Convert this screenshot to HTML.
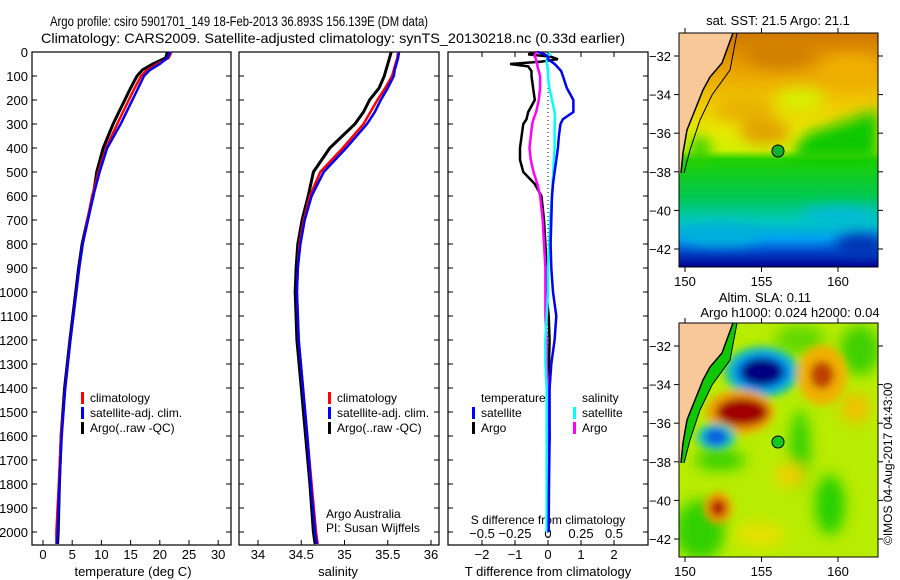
<!DOCTYPE html>
<html><head><meta charset="utf-8"><style>
html,body{margin:0;padding:0;background:#fff;}
svg{display:block;font-family:"Liberation Sans",sans-serif;}
text{fill:#000;}
</style></head><body>
<svg id="chart" width="900" height="580" viewBox="0 0 900 580" xmlns="http://www.w3.org/2000/svg">
<defs>
<filter id="blur4" x="-20%" y="-20%" width="140%" height="140%"><feGaussianBlur stdDeviation="4"/></filter>
<filter id="blur7" x="-30%" y="-30%" width="160%" height="160%"><feGaussianBlur stdDeviation="7"/></filter>
<clipPath id="clipMap1"><rect x="679" y="33" width="199" height="234"/></clipPath>
<clipPath id="clipMap2"><rect x="679" y="323" width="199" height="234"/></clipPath>
<linearGradient id="sstGrad" x1="0" y1="33" x2="0" y2="267" gradientUnits="userSpaceOnUse">
<stop offset="0" stop-color="#d07800"/><stop offset="0.15" stop-color="#e8a000"/>
<stop offset="0.3" stop-color="#f0c800"/><stop offset="0.42" stop-color="#e8e800"/>
<stop offset="0.5" stop-color="#d0f000"/><stop offset="0.54" stop-color="#20d000"/>
<stop offset="0.7" stop-color="#00c850"/>
<stop offset="0.8" stop-color="#00c8b8"/><stop offset="0.88" stop-color="#00a0f0"/>
<stop offset="0.94" stop-color="#0040c8"/><stop offset="1" stop-color="#000090"/>
</linearGradient>
</defs>
<g font-size="14">
<text x="50" y="26" textLength="378" lengthAdjust="spacingAndGlyphs">Argo profile: csiro 5901701_149 18-Feb-2013 36.893S 156.139E (DM data)</text>
<text x="41" y="43" textLength="584" lengthAdjust="spacingAndGlyphs">Climatology: CARS2009. Satellite-adjusted climatology: synTS_20130218.nc (0.33d earlier)</text>
</g>
<g id="panels"></g>
<!-- SST map -->
<g>
<text x="778" y="25" font-size="13" text-anchor="middle">sat. SST: 21.5 Argo: 21.1</text>
<g clip-path="url(#clipMap1)">
<rect x="679" y="33" width="199" height="234" fill="url(#sstGrad)"/>
<g filter="url(#blur7)">
<polygon points="795,145 810,132 835,125 878,110 878,160 795,160" fill="#10c800"/>
<ellipse cx="700" cy="150" rx="10" ry="14" fill="#30d000"/>
<ellipse cx="765" cy="132" rx="25" ry="12" fill="#e0a000"/>
<ellipse cx="745" cy="110" rx="30" ry="12" fill="#e8b000"/>
<ellipse cx="800" cy="100" rx="25" ry="12" fill="#d8f000"/>
<ellipse cx="850" cy="70" rx="30" ry="15" fill="#f0b000"/>
<ellipse cx="780" cy="55" rx="35" ry="14" fill="#d08000"/>
<ellipse cx="840" cy="215" rx="40" ry="8" fill="#00b8e0"/>
<ellipse cx="720" cy="235" rx="40" ry="10" fill="#00b0d8"/>
<ellipse cx="860" cy="245" rx="25" ry="12" fill="#0030b0"/>
</g>
<polygon points="679,33 733,33 722,63 710,77 703,90 695,110 687,130 683,153 681,173 679,174" fill="#f8c898"/>
<polyline points="733,33 722,63 710,77 703,90 695,110 687,130 683,153 681,173" fill="none" stroke="#000" stroke-width="1.5"/>
<polyline points="737,33 730,70 712,95 700,120 690,150 684,173" fill="none" stroke="#000" stroke-width="1"/>
<circle cx="778" cy="151" r="6" fill="#10b030" stroke="#000" stroke-width="1"/>
</g>
<rect x="679" y="33" width="199" height="234" fill="none" stroke="#000" stroke-width="1"/>
<g id="map1ticks"></g>
</g>
<!-- SLA map -->
<g>
<text x="765" y="302" font-size="13" text-anchor="middle">Altim. SLA: 0.11</text>
<text x="790" y="317" font-size="13" text-anchor="middle">Argo h1000: 0.024 h2000: 0.04</text>
<g clip-path="url(#clipMap2)">
<rect x="679" y="323" width="199" height="234" fill="#b8ec00"/>
<g filter="url(#blur7)">
<ellipse cx="700" cy="530" rx="25" ry="30" fill="#30d000"/>
<ellipse cx="800" cy="450" rx="10" ry="40" fill="#30d000"/>
<ellipse cx="830" cy="505" rx="15" ry="30" fill="#28d000"/>
<ellipse cx="860" cy="350" rx="20" ry="25" fill="#40d000"/>
<ellipse cx="800" cy="340" rx="25" ry="15" fill="#60d800"/>
<ellipse cx="720" cy="460" rx="25" ry="10" fill="#30d000"/>
<ellipse cx="855" cy="408" rx="15" ry="15" fill="#f0c000"/>
<ellipse cx="790" cy="475" rx="15" ry="12" fill="#f0d000"/>
<ellipse cx="760" cy="535" rx="25" ry="12" fill="#e8e000"/>
</g>
<g filter="url(#blur4)">
<ellipse cx="762" cy="372" rx="38" ry="26" fill="#20c8a0"/>
<ellipse cx="762" cy="372" rx="30" ry="20" fill="#0090f0"/>
<ellipse cx="762" cy="372" rx="22" ry="14" fill="#000080"/>
<ellipse cx="740" cy="412" rx="34" ry="22" fill="#f0a000"/>
<ellipse cx="742" cy="412" rx="26" ry="14" fill="#a00000"/>
<ellipse cx="822" cy="375" rx="25" ry="30" fill="#f0b000"/>
<ellipse cx="822" cy="375" rx="12" ry="14" fill="#c04000"/>
<ellipse cx="716" cy="437" rx="20" ry="14" fill="#20c8b0"/>
<ellipse cx="716" cy="437" rx="12" ry="9" fill="#1060e0"/>
<ellipse cx="718" cy="508" rx="14" ry="16" fill="#f0a000"/>
<ellipse cx="718" cy="508" rx="8" ry="9" fill="#b01000"/>
</g>
<polygon points="679,323 733,323 722,353 710,367 703,380 695,400 687,420 683,443 681,463 679,464" fill="#f8c898"/>
<polygon points="733,323 737,323 730,360 712,385 700,410 690,440 684,463 681,463 683,443 687,420 695,400 703,380 710,367 722,353" fill="#10c800"/>
<polyline points="733,323 722,353 710,367 703,380 695,400 687,420 683,443 681,463" fill="none" stroke="#000" stroke-width="1.5"/>
<polyline points="737,323 730,360 712,385 700,410 690,440 684,463" fill="none" stroke="#000" stroke-width="1"/>
<circle cx="778" cy="442" r="6" fill="#10c820" stroke="#000" stroke-width="1"/>
</g>
<rect x="679" y="323" width="199" height="234" fill="none" stroke="#000" stroke-width="1"/>
<g id="map2ticks"></g>
<text transform="translate(892,545) rotate(-90)" font-size="12">©IMOS 04-Aug-2017 04:43:00</text>
</g>
</svg>
<script>
// ---- data ----
const depths = [0,25,50,75,100,150,200,250,300,400,500,600,700,800,900,1000,1200,1400,1600,1800,2000,2050];
const tempArgo = [21.3,21.0,18.8,17.0,16.1,15.0,14.0,13.0,12.0,10.3,9.2,8.6,7.6,6.7,6.1,5.6,4.6,3.7,3.1,2.8,2.6,2.5];
const tempClim = [22.0,21.5,19.6,17.8,16.8,15.7,14.7,13.7,12.7,10.8,9.5,8.4,7.6,6.8,6.2,5.7,4.7,3.8,3.1,2.7,2.3,2.3];
const tempSat  = [21.8,21.3,20.0,18.3,17.3,16.3,15.3,14.3,13.3,11.0,9.7,8.6,7.7,6.8,6.2,5.7,4.7,3.8,3.2,2.8,2.5,2.4];
const salArgo = [35.54,35.52,35.50,35.48,35.46,35.40,35.29,35.22,35.12,34.83,34.64,34.58,34.51,34.46,34.44,34.43,34.45,34.50,34.55,34.60,34.64,34.66];
const salClim = [35.62,35.61,35.59,35.57,35.55,35.47,35.38,35.30,35.22,34.98,34.72,34.60,34.53,34.48,34.46,34.45,34.47,34.52,34.57,34.62,34.67,34.69];
const salSat  = [35.63,35.62,35.60,35.58,35.57,35.50,35.42,35.35,35.26,35.02,34.76,34.62,34.54,34.49,34.46,34.45,34.47,34.52,34.57,34.61,34.66,34.68];
const diffDepths = [0,10,20,30,40,50,60,80,100,150,200,250,280,300,350,400,450,500,550,600,700,800,900,1000,1100,1200,1300,1400,1600,1800,2000];
const tDiffArgo = [-0.3,-0.6,0.1,0.3,-0.2,-1.15,-0.6,-0.5,-0.5,-0.45,-0.4,-0.6,-0.65,-0.75,-0.8,-0.85,-0.85,-0.75,-0.4,-0.2,-0.12,-0.08,-0.05,-0.05,0.02,0.05,0.03,0.0,0.05,0.0,0.0];
const tDiffSat  = [-0.3,-0.1,0.0,0.0,0.1,0.2,0.27,0.4,0.45,0.57,0.77,0.77,0.45,0.38,0.33,0.3,0.25,0.2,0.15,0.12,0.1,0.08,0.1,0.15,0.25,0.2,0.1,0.05,0.05,0.03,0.02];
const sDiffArgo = [-0.08,-0.1,-0.1,-0.09,-0.09,-0.08,-0.08,-0.07,-0.06,-0.06,-0.07,-0.09,-0.11,-0.12,-0.13,-0.14,-0.13,-0.11,-0.08,-0.06,-0.04,-0.03,-0.02,-0.02,-0.02,-0.01,-0.01,0.0,0.0,0.0,0.0];
const sDiffSat  = [0.015,0.01,0.0,-0.01,-0.01,-0.008,-0.005,0.0,0.0,0.01,0.03,0.05,0.053,0.05,0.05,0.05,0.045,0.04,0.035,0.03,0.015,0.01,0.0,0.0,-0.01,-0.02,-0.02,-0.01,-0.01,-0.01,-0.01];
const depthTicks = [0,100,200,300,400,500,600,700,800,900,1000,1100,1200,1300,1400,1500,1600,1700,1800,1900,2000];
const tempTicks = [0,5,10,15,20,25,30];
const salTicks = [34,34.5,35,35.5,36];
const tDiffTicks = [-2,-1,0,1,2];
const sDiffTicks = [-0.5,-0.25,0,0.25,0.5];
const latTicks = [-32,-34,-36,-38,-40,-42];
const lonTicks = [150,155,160];

// ---- scales ----
const PT = 52, PB = 545;
const yD = d => PT + d * 0.24;
const xT = v => 43 + v * 5.84;
const xS = v => 258 + (v - 34) * 86.5;
const xTd = v => 548 + v * 33;
const xSd = v => 548 + v * 132;
const yLat = (v, top) => top + 23 + (-32 - v) * 19.3;
const xLon = v => 685 + (v - 150) * 15.3;

const NS = 'http://www.w3.org/2000/svg';
function mk(tag, attrs, parent, txt) {
  const e = document.createElementNS(NS, tag);
  for (const k in attrs) e.setAttribute(k, attrs[k]);
  if (txt !== undefined) e.textContent = txt;
  parent.appendChild(e);
  return e;
}
const root = document.getElementById('panels');

function panel(name, x0, x1) {
  const g = mk('g', {}, root);
  
  
  const r = mk('rect', {x: x0, y: PT, width: x1 - x0, height: PB - PT, fill: 'none', stroke: '#000', 'stroke-width': 1.2}, g);
  
  
  depthTicks.forEach(d => {
    mk('line', {x1: x0, x2: x0 + 5, y1: yD(d), y2: yD(d), stroke: '#000'}, g);
    mk('line', {x1: x1 - 5, x2: x1, y1: yD(d), y2: yD(d), stroke: '#000'}, g);
  });
  return g;
}
function xticks(g, ticks, sx, labelY, both) {
  ticks.forEach(t => {
    const x = sx(t);
    mk('line', {x1: x, x2: x, y1: PB, y2: PB - 5, stroke: '#000'}, g);
    if (both) mk('line', {x1: x, x2: x, y1: PT, y2: PT + 5, stroke: '#000'}, g);
    const lb = mk('text', {x: x, y: labelY, 'font-size': 13, 'text-anchor': 'middle'}, g, String(t).replace('-', '\u2212'));
    
    
  });
}
function line(g, xs, ds, sx, color, name, w) {
  const pts = xs.map((v, i) => sx(v).toFixed(1) + ',' + yD(ds[i]).toFixed(1)).join(' ');
  const p = mk('polyline', {points: pts, fill: 'none', stroke: color, 'stroke-width': w || 2.5, 'stroke-linejoin': 'miter'}, g);
  
  
}
function legend(g, x, y, color, label) {
  mk('rect', {x: x, y: y - 10, width: 3, height: 12, fill: color}, g);
  const t = mk('text', {x: x + 9, y: y, 'font-size': 12}, g, label);
  
  
}

// Panel 1: temperature
const g1 = panel('temperature-panel', 32, 231);
depthTicks.forEach(d => {
  const t = mk('text', {x: 28, y: yD(d) + 5, 'font-size': 13, 'text-anchor': 'end'}, g1, d);
  
  
});
xticks(g1, tempTicks, xT, 559, false);
const xl1 = mk('text', {x: 133, y: 576, 'font-size': 13, 'text-anchor': 'middle'}, g1, 'temperature (deg C)');


line(g1, tempArgo, depths, xT, '#000', 'temp-argo-line', 3);
line(g1, tempClim, depths, xT, '#f00', 'temp-climatology-line');
line(g1, tempSat, depths, xT, '#0000f0', 'temp-satellite-line');
legend(g1, 81, 402, '#f00', 'climatology');
legend(g1, 81, 417, '#00f', 'satellite-adj. clim.');
legend(g1, 81, 432, '#000', 'Argo(..raw -QC)');

// Panel 2: salinity
const g2 = panel('salinity-panel', 239, 439);
xticks(g2, salTicks, xS, 559, false);
const xl2 = mk('text', {x: 338, y: 576, 'font-size': 13, 'text-anchor': 'middle'}, g2, 'salinity');


line(g2, salArgo, depths, xS, '#000', 'sal-argo-line', 3);
line(g2, salClim, depths, xS, '#f00', 'sal-climatology-line');
line(g2, salSat, depths, xS, '#0000f0', 'sal-satellite-line');
legend(g2, 328, 402, '#f00', 'climatology');
legend(g2, 328, 417, '#00f', 'satellite-adj. clim.');
legend(g2, 328, 432, '#000', 'Argo(..raw -QC)');
const aa = mk('text', {x: 326, y: 518, 'font-size': 12}, g2, 'Argo Australia');


const pi = mk('text', {x: 326, y: 532, 'font-size': 12}, g2, 'PI: Susan Wijffels');



// Panel 3: differences
const g3 = panel('difference-panel', 448, 648);
xticks(g3, tDiffTicks, xTd, 559, true);
sDiffTicks.forEach(t => {
  const lb = mk('text', {x: xSd(t), y: 538, 'font-size': 13, 'text-anchor': 'middle'}, g3, String(t).replace('-', '\u2212'));
  
  
});
const sl = mk('text', {x: 548, y: 524, 'font-size': 12, 'text-anchor': 'middle'}, g3, 'S difference from climatology');


const tl = mk('text', {x: 548, y: 576, 'font-size': 13, 'text-anchor': 'middle'}, g3, 'T difference from climatology');


const zl = mk('line', {x1: 548, x2: 548, y1: PT, y2: PB, stroke: '#000', 'stroke-dasharray': '1,3'}, g3);


line(g3, tDiffArgo, diffDepths, xTd, '#000', 'tdiff-argo-line');
line(g3, sDiffArgo, diffDepths, xSd, '#ff00ff', 'sdiff-argo-line');
line(g3, sDiffSat, diffDepths, xSd, '#00ffff', 'sdiff-satellite-line');
line(g3, tDiffSat, diffDepths, xTd, '#0000f0', 'tdiff-satellite-line');
const lt = mk('text', {x: 481, y: 402, 'font-size': 12}, g3, 'temperature');


const ls = mk('text', {x: 582, y: 402, 'font-size': 12}, g3, 'salinity');


legend(g3, 472, 417, '#00f', 'satellite');
legend(g3, 472, 432, '#000', 'Argo');
legend(g3, 573, 417, '#00ffff', 'satellite');
legend(g3, 573, 432, '#ff00ff', 'Argo');

// Map ticks
function mapTicks(id, top) {
  const g = document.getElementById(id);
  latTicks.forEach(v => {
    const y = yLat(v, top);
    mk('line', {x1: 674, x2: 679, y1: y, y2: y, stroke: '#000'}, g);
    mk('line', {x1: 878, x2: 883, y1: y, y2: y, stroke: '#000'}, g);
    const t = mk('text', {x: 671, y: y + 5, 'font-size': 13, 'text-anchor': 'end'}, g, String(v).replace('-', '\u2212'));
    
    
  });
  lonTicks.forEach(v => {
    const x = xLon(v);
    mk('line', {x1: x, x2: x, y1: top, y2: top - 5, stroke: '#000'}, g);
    mk('line', {x1: x, x2: x, y1: top + 234, y2: top + 239, stroke: '#000'}, g);
    const t = mk('text', {x: x, y: top + 253, 'font-size': 13, 'text-anchor': 'middle'}, g, v);
    
    
  });
}
mapTicks('map1ticks', 33);
mapTicks('map2ticks', 323);
</script>
</body></html>
